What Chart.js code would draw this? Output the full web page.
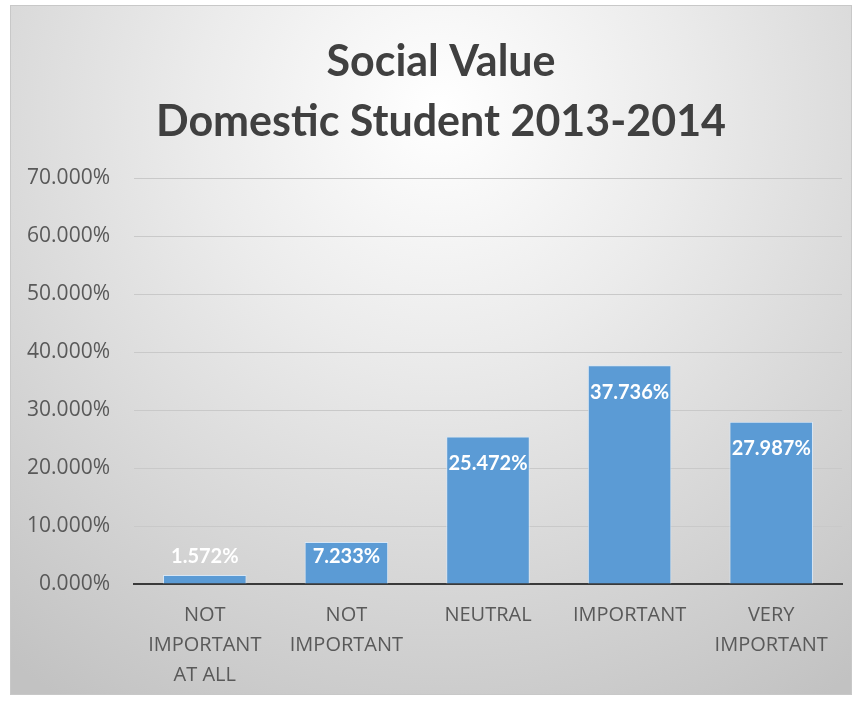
<!DOCTYPE html>
<html>
<head>
<meta charset="utf-8">
<script src="https://cdn.jsdelivr.net/npm/chart.js@4.4.1/dist/chart.umd.min.js"></script>
<style>
  html, body { margin: 0; padding: 0; background: #ffffff; }
  #wrap { width: 860px; height: 701px; }
</style>
</head>
<body>
<div id="wrap"><canvas id="chart" width="860" height="701"></canvas></div>
<script>
const categories = [
    ['NOT', 'IMPORTANT', 'AT ALL'],
    ['NOT', 'IMPORTANT'],
    'NEUTRAL',
    'IMPORTANT',
    ['VERY', 'IMPORTANT']
];
const shares = [1.572, 7.233, 25.472, 37.736, 27.987];
const yTicks = [0, 10, 20, 30, 40, 50, 60, 70];
const titleLines = ['Social Value', 'Domestic Student 2013-2014'];

const pct = v => v.toFixed(3) + '%';

// grey radial backdrop inside a thin frame
const backdrop = {
    id: 'backdrop',
    afterLayout(chart) {
        // nudge the title box so its centre sits a bit right of the canvas middle
        if (chart.titleBlock) chart.titleBlock.left = 40;
    },
    beforeDraw(chart) {
        const ctx = chart.ctx;
        const x0 = 10, y0 = 5, x1 = 852, y1 = 695;
        ctx.save();
        ctx.fillStyle = '#ffffff';
        ctx.fillRect(0, 0, chart.width, chart.height);
        const g = ctx.createRadialGradient(440, 110, 0, 440, 110, 700);
        g.addColorStop(0, '#ffffff');
        g.addColorStop(0.35, '#ebebeb');
        g.addColorStop(1, '#c2c2c2');
        ctx.fillStyle = g;
        ctx.fillRect(x0, y0, x1 - x0, y1 - y0);
        ctx.strokeStyle = '#c8c8c8';
        ctx.lineWidth = 1;
        ctx.strokeRect(x0 + 0.5, y0 + 0.5, x1 - x0 - 1, y1 - y0 - 1);
        ctx.restore();
    }
};

// value labels just inside the top of each bar
const barLabels = {
    id: 'barLabels',
    afterDatasetsDraw(chart) {
        const ctx = chart.ctx;
        const meta = chart.getDatasetMeta(0);
        ctx.save();
        ctx.font = 'bold 20px Lato';
        ctx.fillStyle = '#ffffff';
        ctx.textAlign = 'center';
        ctx.textBaseline = 'middle';
        meta.data.forEach((bar, i) => {
            const y = Math.min(bar.y + 27, bar.base - 27);
            ctx.fillText(pct(shares[i]), bar.x, y);
        });
        ctx.restore();
    }
};

new Chart(document.getElementById('chart'), {
    type: 'bar',
    data: {
        labels: categories,
        datasets: [{
            data: shares,
            backgroundColor: '#5b9bd5',
            borderColor: 'rgba(215,232,248,0.9)',
            borderWidth: 1,
            borderSkipped: 'bottom',
            categoryPercentage: 1,
            barPercentage: 0.59
        }]
    },
    options: {
        responsive: false,
        animation: false,
        layout: { padding: { left: 10, right: 18, top: 0, bottom: 0 } },
        plugins: {
            legend: { display: false },
            tooltip: { enabled: false },
            title: {
                display: true,
                text: titleLines,
                color: '#404040',
                font: { family: 'Lato', size: 43, weight: 'bold', lineHeight: 1.4 },
                padding: { top: 32, bottom: 26 }
            }
        },
        scales: {
            x: {
                grid: { display: false },
                border: { display: true, color: '#3a3a3a', width: 2 },
                ticks: {
                    color: '#595959',
                    font: { family: 'Open Sans', size: 20, lineHeight: 1.5 },
                    padding: 8,
                    maxRotation: 0
                },
                afterFit(scale) { scale.height = 117; }
            },
            y: {
                min: 0,
                max: 70,
                afterBuildTicks(scale) { scale.ticks = yTicks.map(v => ({ value: v })); },
                grid: { color: '#c9c9c9', lineWidth: 1, drawTicks: false },
                border: { display: false },
                ticks: {
                    color: '#595959',
                    font: { family: 'Open Sans', size: 21 },
                    padding: 24,
                    callback: v => pct(v)
                },
                afterFit(scale) { scale.width = 124; }
            }
        }
    },
    plugins: [backdrop, barLabels]
});
</script>
</body>
</html>
